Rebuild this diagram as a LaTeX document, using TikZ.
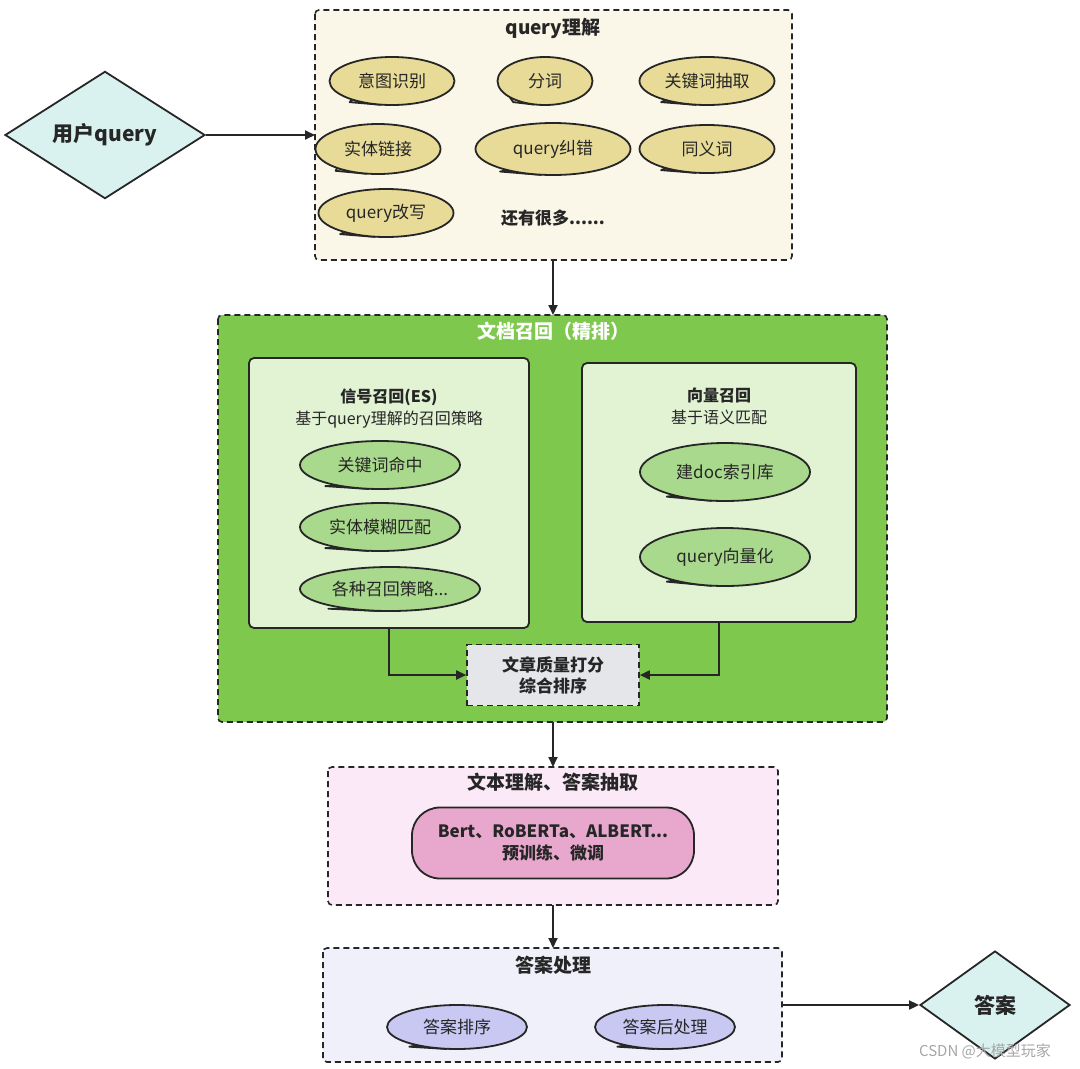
\documentclass[tikz,border=0pt]{standalone}
\usepackage{fontspec}
\setmainfont{Noto Sans CJK SC}
\usetikzlibrary{shapes.geometric,arrows.meta,positioning}
\definecolor{inkc}{HTML}{262626}
\definecolor{qbox}{HTML}{FAF7E8}
\definecolor{qbub}{HTML}{E8DB98}
\definecolor{gbox}{HTML}{7EC84E}
\definecolor{gin}{HTML}{E2F3D4}
\definecolor{gbub}{HTML}{A9D98C}
\definecolor{pbox}{HTML}{FBE9F8}
\definecolor{pbub}{HTML}{E8A8CE}
\definecolor{lbox}{HTML}{F0F0FA}
\definecolor{lbub}{HTML}{C8C8F2}
\definecolor{dia}{HTML}{D9F2EF}
\definecolor{sgrey}{HTML}{E4E6EA}
\tikzset{
  every node/.style={font=\fontsize{17}{21}\selectfont, text=inkc},
  frame/.style={draw=inkc, line width=1.6pt, dash pattern=on 6pt off 4pt, rounded corners=4pt},
  inner/.style={draw=inkc, line width=1.8pt, rounded corners=5pt, fill=gin},
  bubshape/.style={ellipse, inner sep=0pt, minimum width=#1},
  bub/.style={ellipse, draw=inkc, line width=1.8pt, inner sep=0pt},
  flow/.style={-{Triangle[length=10pt,width=9pt]}, line width=1.8pt, draw=inkc},
  ttl/.style={font=\bfseries\fontsize{19}{23}\selectfont},
}
% speech bubble: name, position, width, height, fill, text
\newcommand\bubble[6]{%
  \path node[bubshape=#3, minimum height=#4] (#1) at (#2) {};
  \filldraw[fill=#5, draw=inkc, line width=1.8pt, line join=round]
    (#1.205) -- ([shift={(2pt,-4pt)}]#1.south west) -- (#1.245) -- cycle;
  \node[bub, fill=#5, minimum width=#3, minimum height=#4] (#1-t) at (#1) {#6};
}
\begin{document}
\begin{tikzpicture}[x=1pt, y=-1pt]
\useasboundingbox (0,0) rectangle (1080,1069);

% query understanding
\node[diamond, draw=inkc, line width=1.8pt, fill=dia, minimum width=200pt, minimum height=108pt,
      inner sep=0pt, font=\bfseries\fontsize{21}{25}\selectfont] (user) at (105,135) {用户query};
\draw[frame, fill=qbox] (315,10) rectangle (792,260);
\coordinate (qN) at (553,10); \coordinate (qS) at (553,260); \coordinate (qW) at (315,135);
\node[ttl] (qtitle) at (553,28) {query理解};
\bubble{b1}{392,81}{125pt}{48pt}{qbub}{意图识别}
\bubble{b2}{545,81}{95pt}{48pt}{qbub}{分词}
\bubble{b3}{707,81}{135pt}{48pt}{qbub}{关键词抽取}
\bubble{b4}{378,149}{125pt}{50pt}{qbub}{实体链接}
\bubble{b5}{553,149}{155pt}{52pt}{qbub}{query纠错}
\bubble{b6}{707,149}{135pt}{48pt}{qbub}{同义词}
\bubble{b7}{386,213}{135pt}{48pt}{qbub}{query改写}
\node[font=\bfseries\fontsize{17}{21}\selectfont] (more) at (553,218) {还有很多......};
\draw[flow] (user.east) -- (qW);

% recall
\draw[frame, fill=gbox] (218,315) rectangle (887,722);
\coordinate (rN) at (553,315); \coordinate (rS) at (553,722);
\draw[flow] (qS) -- (rN);
\node[ttl, text=white] (rtitle) at (553,331) {文档召回（精排）};
\draw[inner] (249,358) rectangle (529,628);
\coordinate (aS) at (389,628);
\node[align=center, font=\fontsize{16}{22}\selectfont] (atitle) at (389,408) {\textbf{信号召回(ES)}\\基于query理解的召回策略};
\bubble{g1}{380,465}{160pt}{48pt}{gbub}{关键词命中}
\bubble{g2}{380,527}{160pt}{48pt}{gbub}{实体模糊匹配}
\bubble{g3}{390,589}{180pt}{44pt}{gbub}{各种召回策略...}
\draw[inner] (582,363) rectangle (856,622);
\coordinate (bS) at (719,622);
\node[align=center, font=\fontsize{16}{22}\selectfont] (btitle) at (719,406) {\textbf{向量召回}\\基于语义匹配};
\bubble{v1}{725,472}{170pt}{58pt}{gbub}{建doc索引库}
\bubble{v2}{725,557}{170pt}{58pt}{gbub}{query向量化}
\node[draw=inkc, line width=1.6pt, dash pattern=on 6pt off 4pt, fill=sgrey, minimum width=172pt,
      minimum height=61pt, align=center, font=\bfseries\fontsize{17}{21}\selectfont] (rank) at (553,675)
      {文章质量打分\\综合排序};
\draw[flow] (aS) |- (rank.west);
\draw[flow] (bS) |- (rank.east);

% reading comprehension
\draw[frame, fill=pbox] (328,767) rectangle (778,905);
\coordinate (mN) at (553,767); \coordinate (mS) at (553,905);
\draw[flow] (rS) -- (mN);
\node[ttl] (mtitle) at (553,782) {文本理解、答案抽取};
\node[draw=inkc, line width=1.8pt, fill=pbub, rounded corners=28pt, minimum width=282pt,
      minimum height=71pt, align=center, font=\bfseries\fontsize{17}{22}\selectfont] (model) at (553,843)
      {Bert、RoBERTa、ALBERT...\\预训练、微调};

% answer processing
\draw[frame, fill=lbox] (323,948) rectangle (782,1062);
\coordinate (pN) at (553,948); \coordinate (pE) at (782,1005);
\draw[flow] (mS) -- (pN);
\node[ttl] (ptitle) at (553,965) {答案处理};
\bubble{l1}{457,1027}{140pt}{44pt}{lbub}{答案排序}
\bubble{l2}{665,1027}{140pt}{44pt}{lbub}{答案后处理}
\node[diamond, draw=inkc, line width=1.8pt, fill=dia, minimum width=150pt, minimum height=108pt,
      inner sep=0pt, font=\bfseries\fontsize{21}{25}\selectfont] (ans) at (995,1005) {答案};
\draw[flow] (pE) -- (ans.west);
\node[text=gray!70, font=\fontsize{15}{18}\selectfont] (mark) at (985,1051) {CSDN @大模型玩家};
\end{tikzpicture}
\end{document}
